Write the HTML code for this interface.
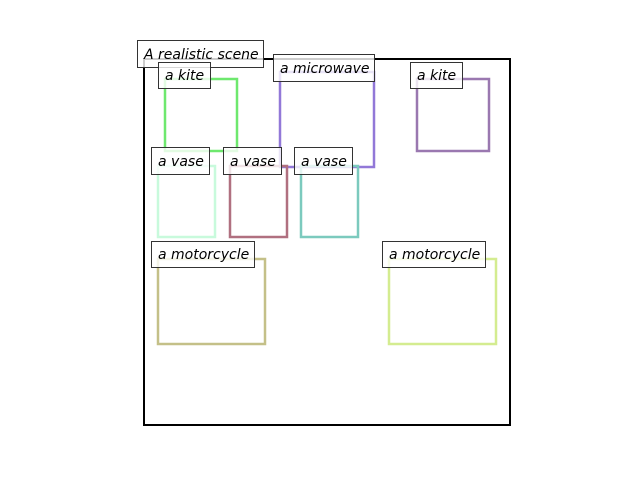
<!DOCTYPE html>
<html><head><style>body{margin:0;background:#fff}svg{display:block}</style></head>
<body>
<svg width="640" height="480" xmlns="http://www.w3.org/2000/svg" font-family="DejaVu Sans, sans-serif" font-style="italic" font-size="14">
<rect x="144" y="59" width="366" height="366" fill="none" stroke="#000" stroke-width="2"/>
<g fill="none" stroke-width="2.5">
<rect x="165" y="79" width="72" height="72" stroke="#6ee86e"/>
<rect x="280" y="72" width="94" height="95" stroke="#9278d8"/>
<rect x="417" y="79" width="72" height="72" stroke="#9a78b0"/>
<rect x="158" y="166" width="57" height="71" stroke="#c8fadc"/>
<rect x="230" y="166" width="57" height="71" stroke="#b07080"/>
<rect x="301" y="166" width="57" height="71" stroke="#7ccabe"/>
<rect x="158" y="259" width="107" height="85" stroke="#c4c088"/>
<rect x="389" y="259" width="107" height="85" stroke="#d4ec90"/>
</g>
<g fill="#fff" fill-opacity="0.8" stroke="#333" stroke-width="1">
<rect x="137.5" y="40.5" width="126" height="27"/>
<rect x="158.5" y="62.5" width="52" height="26"/>
<rect x="273.5" y="54.5" width="101" height="27"/>
<rect x="410.5" y="62.5" width="52" height="26"/>
<rect x="151.5" y="147.5" width="58" height="27"/>
<rect x="223.5" y="147.5" width="58" height="27"/>
<rect x="294.5" y="147.5" width="58" height="27"/>
<rect x="151.5" y="241.5" width="103" height="26"/>
<rect x="382.5" y="241.5" width="103" height="26"/>
</g>
<g fill="#000">
<text x="144" y="59">A realistic scene</text>
<text x="165" y="80">a kite</text>
<text x="280" y="73">a microwave</text>
<text x="417" y="80">a kite</text>
<text x="158" y="166">a vase</text>
<text x="230" y="166">a vase</text>
<text x="301" y="166">a vase</text>
<text x="158" y="259">a motorcycle</text>
<text x="389" y="259">a motorcycle</text>
</g>
</svg>
</body></html>
